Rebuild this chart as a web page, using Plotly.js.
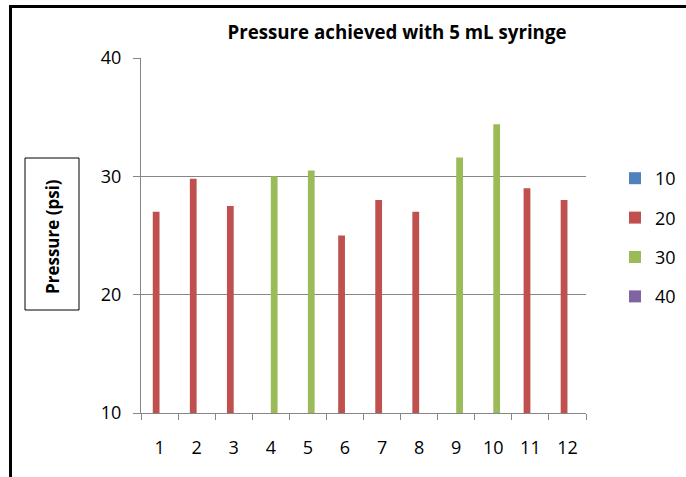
<!DOCTYPE html>
<html>
<head>
<meta charset="utf-8">
<script src="https://cdn.plot.ly/plotly-3.0.1.min.js"></script>
<style>
  html, body { margin: 0; padding: 0; background: #fff; }
  #chart { width: 686px; height: 477px; position: absolute; left: 0; top: 0; }
  #frame { position: absolute; left: 9px; top: 5px; width: 700px; height: 500px;
           border-left: 3px solid #000; border-top: 3px solid #000; pointer-events: none; }
</style>
</head>
<body>
<div id="chart"></div>
<div id="frame"></div>
<script>
const categories = ['1','2','3','4','5','6','7','8','9','10','11','12'];
const seriesNames = ['10', '20', '30', '40'];
const series10 = [null, null, null, null, null, null, null, null, null, null, null, null];
const series20 = [27, 29.8, 27.5, null, null, 25, 28, 27, null, null, 29, 28];
const series30 = [null, null, null, 30, 30.5, null, null, null, 31.6, 34.4, null, null];
const series40 = [null, null, null, null, null, null, null, null, null, null, null, null];
const yTicks = [10, 20, 30, 40];

const colors = ['#4F81BD', '#C0504D', '#9BBB59', '#8064A2'];
const allSeries = [series10, series20, series30, series40];
const FONT = '"Open Sans", "Noto Sans", sans-serif';

const traces = allSeries.map((s, i) => ({
  type: 'bar',
  name: seriesNames[i],
  x: categories,
  y: s,
  marker: { color: colors[i] },
  legendgroup: 'g' + i,
  hoverinfo: 'x+y+name'
}));

const L = 141, R = 586, T = 58, B = 413, W = 686, H = 477;
const pw = R - L, ph = B - T;
function px2x(p) { return (p - L) / pw; }
function py2y(p) { return (B - p) / ph; }

const layout = {
  width: W, height: H,
  margin: { l: L, r: W - R, t: T, b: H - B, pad: 0, autoexpand: false },
  paper_bgcolor: '#ffffff',
  plot_bgcolor: '#ffffff',
  font: { family: FONT, size: 18, color: '#000' },
  barmode: 'group',
  bargap: 0.27,
  bargroupgap: 0,
  showlegend: true,
  title: {
    text: '<b>Pressure achieved with 5 mL syringe</b>',
    font: { family: FONT, size: 18.7, color: '#000' },
    x: 397 / W, xanchor: 'center',
    y: 1 - 32 / H, yanchor: 'middle'
  },
  xaxis: {
    type: 'category',
    tickson: 'boundaries',
    ticks: 'outside', ticklen: 6, tickcolor: '#868686', tickwidth: 1,
    showline: true, linecolor: '#868686', linewidth: 1,
    showgrid: false,
    tickfont: { family: FONT, size: 18, color: '#000' },
    ticklabelstandoff: 18,
    fixedrange: true
  },
  yaxis: {
    range: [10, 40],
    tickvals: yTicks,
    ticktext: yTicks.map(String),
    ticks: 'outside', ticklen: 7, tickcolor: '#868686', tickwidth: 1,
    showline: true, linecolor: '#868686', linewidth: 1,
    showgrid: true, gridcolor: '#868686', gridwidth: 1,
    zeroline: false,
    tickfont: { family: FONT, size: 18, color: '#000' },
    ticklabelstandoff: 8,
    fixedrange: true
  },
  legend: {
    x: (615 - L) / pw, xanchor: 'left',
    y: py2y(160), yanchor: 'top',
    font: { family: FONT, size: 18, color: '#000' },
    tracegroupgap: 13,
    bgcolor: 'rgba(0,0,0,0)',
    traceorder: 'grouped'
  },
  annotations: [{
    text: '<b>Pressure (psi)</b>',
    xref: 'paper', yref: 'paper',
    x: px2x(52), y: py2y(237),
    xanchor: 'center', yanchor: 'middle',
    textangle: -90, showarrow: false,
    font: { family: FONT, size: 17, color: '#000' }
  }],
  shapes: [{
    type: 'rect', xref: 'paper', yref: 'paper',
    x0: px2x(25), x1: px2x(79), y0: py2y(310), y1: py2y(158),
    line: { color: '#000', width: 1 }, fillcolor: 'rgba(0,0,0,0)'
  }]
};

Plotly.newPlot('chart', traces, layout, { displayModeBar: false });
</script>
</body>
</html>
